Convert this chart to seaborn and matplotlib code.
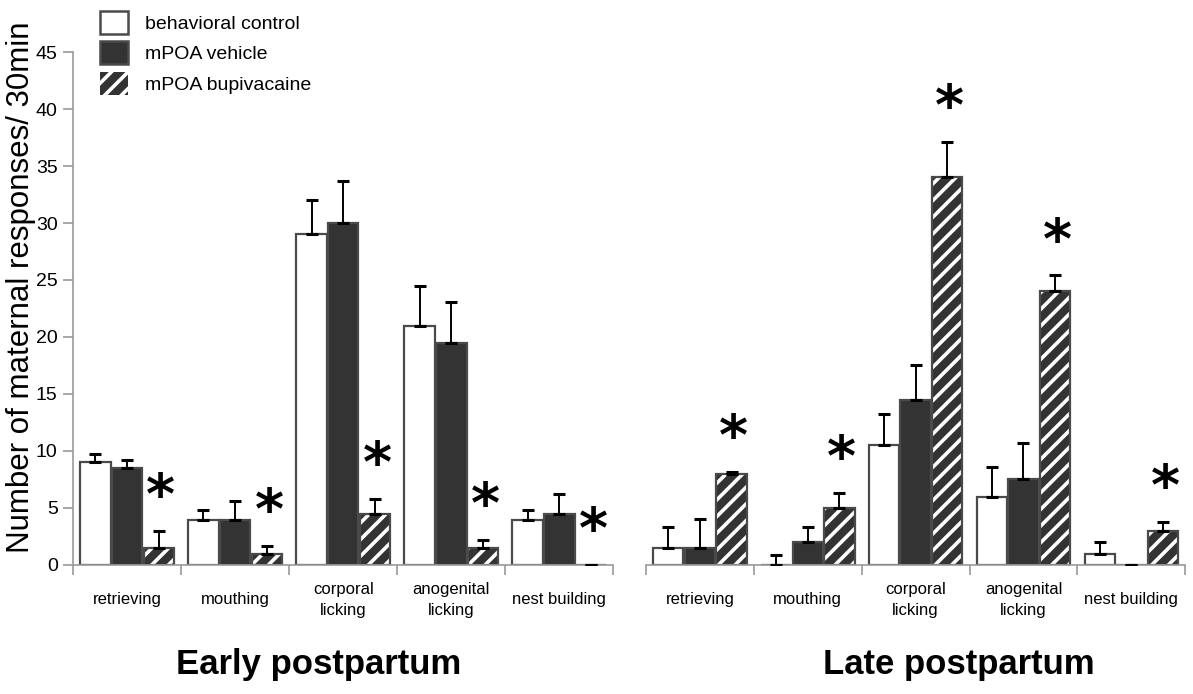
import numpy as np
import pandas as pd
import matplotlib
matplotlib.use("Agg")
import matplotlib.pyplot as plt
import seaborn as sns
from matplotlib.patches import Rectangle, Patch

categories = ["retrieving", "mouthing", "corporal\nlicking", "anogenital\nlicking", "nest building"]
groups = ["behavioral control", "mPOA vehicle", "mPOA bupivacaine"]

# Early postpartum means and SEM (upper)
early_bc = [9.0, 3.9, 29.0, 21.0, 3.9]
early_bc_err = [0.7, 0.9, 3.0, 3.5, 0.9]
early_veh = [8.5, 3.9, 30.0, 19.5, 4.5]
early_veh_err = [0.7, 1.7, 3.7, 3.6, 1.7]
early_bup = [1.5, 1.0, 4.5, 1.5, 0.0]
early_bup_err = [1.5, 0.7, 1.3, 0.7, 0.0]
early_sig = [True, True, True, True, True]

# Late postpartum
late_bc = [1.5, 0.0, 10.5, 6.0, 1.0]
late_bc_err = [1.8, 0.9, 2.7, 2.6, 1.0]
late_veh = [1.5, 2.0, 14.5, 7.5, 0.0]
late_veh_err = [2.5, 1.3, 3.0, 3.2, 0.0]
late_bup = [8.0, 5.0, 34.0, 24.0, 3.0]
late_bup_err = [0.15, 1.3, 3.1, 1.4, 0.8]
late_sig = [True, True, True, True, True]

yticks = [0, 5, 10, 15, 20, 25, 30, 35, 40, 45]

plt.rcParams["font.family"] = ["Liberation Sans", "DejaVu Sans"]
plt.rcParams["hatch.linewidth"] = 2.6

fig = plt.figure(figsize=(11.93, 6.94), dpi=100)
ax1 = fig.add_axes([0.0612, 0.186, 0.453, 0.739])
ax2 = fig.add_axes([0.5415, 0.186, 0.452, 0.739])

DARK = "#333333"
EDGE = "#4a4a4a"


def panel(ax, vals, errs, sig, show_y):
    rows = []
    for g, v in zip(groups, vals):
        for c, x in zip(categories, v):
            rows.append({"cat": c, "grp": g, "val": x})
    df = pd.DataFrame(rows)
    sns.barplot(data=df, x="cat", y="val", hue="grp", order=categories,
                hue_order=groups, palette=["white", DARK, DARK],
                width=0.88, gap=0.04, errorbar=None, legend=False, ax=ax,
                saturation=1, edgecolor=EDGE, linewidth=1.6)
    # hatch the bupivacaine bars
    for p in ax.containers[2]:
        p.set_edgecolor("white")
        p.set_hatch("//")
        p.set_linewidth(0)
        r = Rectangle(p.get_xy(), p.get_width(), p.get_height(), fill=False,
                      edgecolor=EDGE, linewidth=1.6, zorder=p.get_zorder() + 0.1)
        ax.add_patch(r)
    for cont, e in zip(ax.containers, errs):
        xs = [p.get_x() + p.get_width() / 2 for p in cont]
        hs = [p.get_height() for p in cont]
        ax.errorbar(xs, hs, yerr=[np.zeros(len(e)), e], fmt="none",
                    ecolor="black", elinewidth=1.4, capsize=4.5, capthick=2.2,
                    zorder=5)
    # significance stars
    for p, e, s in zip(ax.containers[2], errs[2], sig):
        if s:
            ax.text(p.get_x() + p.get_width() / 2 + 0.02, p.get_height() + e + 0.5, "*",
                    ha="center", va="bottom", fontsize=40, fontweight="bold",
                    family="DejaVu Sans")
    ax.set_xlim(-0.5, 4.5)
    ax.set_ylim(0, 45)
    ax.set_xlabel("")
    ax.set_ylabel("")
    ax.set_xticks(range(len(categories)))
    ax.set_xticklabels(categories, fontsize=12, linespacing=1.5)
    ax.tick_params(axis="x", length=0, pad=25)
    for t in ax.get_xticklabels():
        t.set_verticalalignment("center")
    ax.set_xticks(np.arange(-0.5, 5.0, 1.0), minor=True)
    ax.tick_params(axis="x", which="minor", length=7, color="#999999", width=1.2)
    for s in ["top", "right"]:
        ax.spines[s].set_visible(False)
    ax.spines["bottom"].set_color("#999999")
    ax.spines["bottom"].set_linewidth(1.2)
    if show_y:
        ax.set_yticks(yticks)
        ax.set_yticklabels([str(t) for t in yticks], fontsize=14)
        ax.tick_params(axis="y", length=7, color="#999999", width=1.2, pad=4)
        ax.spines["left"].set_color("#999999")
        ax.spines["left"].set_linewidth(1.2)
    else:
        ax.set_yticks([])
        ax.spines["left"].set_visible(False)
    ax.set_facecolor("white")


panel(ax1, [early_bc, early_veh, early_bup], [early_bc_err, early_veh_err, early_bup_err], early_sig, True)
panel(ax2, [late_bc, late_veh, late_bup], [late_bc_err, late_veh_err, late_bup_err], late_sig, False)

ax1.set_ylabel("Number of maternal responses/ 30min", fontsize=22.5)
ax1.yaxis.set_label_coords(-0.068, 0.541)

fig.text(0.267, 0.042, "Early postpartum", ha="center", va="center",
         fontsize=25, fontweight="bold")
fig.text(0.804, 0.042, "Late postpartum", ha="center", va="center",
         fontsize=25, fontweight="bold")

handles = [Patch(facecolor="white", edgecolor=EDGE, linewidth=1.8),
           Patch(facecolor=DARK, edgecolor=EDGE, linewidth=1.8),
           Patch(facecolor=DARK, edgecolor="white", hatch="//", linewidth=0)]
leg = fig.legend(handles, groups, loc="upper left", bbox_to_anchor=(0.069, 1.01),
                 frameon=False, fontsize=14, handlelength=1.45, handleheight=1.45,
                 labelspacing=0.38, handletextpad=0.85)
fig.savefig("out.png", dpi=100, facecolor="white")
